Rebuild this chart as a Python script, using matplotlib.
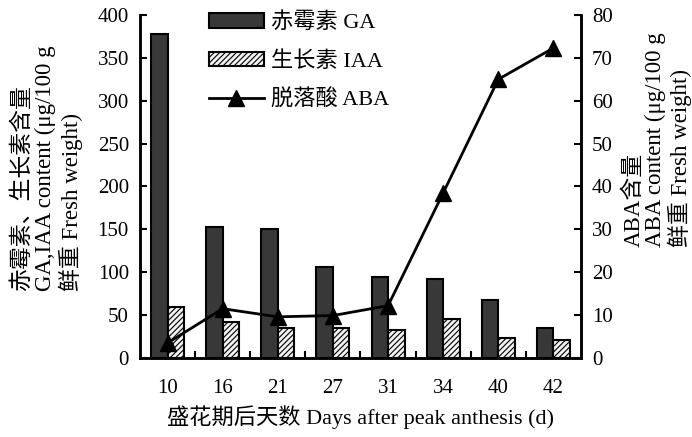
import matplotlib
matplotlib.use("Agg")
import matplotlib.pyplot as plt
import numpy as np

plt.rcParams['font.family'] = ['Liberation Serif', 'Noto Sans CJK SC']
plt.rcParams['hatch.color'] = '#555555'
plt.rcParams['hatch.linewidth'] = 0.8

days = ['10', '16', '21', '27', '31', '34', '40', '42']
ga = [378, 153, 151, 106, 94, 92, 68, 35]
iaa = [60, 42, 35, 35, 33, 45, 23, 21]
aba = [3.5, 11.5, 9.6, 9.9, 12.2, 38.5, 65, 72.3]

x = np.arange(len(days))
w = 0.3

fig = plt.figure(figsize=(6.92, 4.37), dpi=100)
ax = fig.add_axes([0.2023, 0.1808, 0.6373, 0.7849])
ax2 = ax.twinx()

b1 = ax.bar(x - w/2, ga, w, color='#383838', edgecolor='black', linewidth=1.5)
b2 = ax.bar(x + w/2, iaa, w, color='#f2f2f2', edgecolor='black', linewidth=1.5, hatch='//////')
l1, = ax2.plot(x, aba, color='black', linewidth=2, marker='^', markersize=11)

ax.set_xlim(-0.5, 7.5)
ax.set_ylim(0, 400)
ax2.set_ylim(0, 80)
ax.set_yticks(np.arange(0, 401, 50))
ax2.set_yticks(np.arange(0, 81, 10))
ax.set_xticks(x)
ax.set_xticklabels(days)
ax.set_xticks(np.arange(0.5, 7, 1), minor=True)
ax.tick_params(axis='x', which='major', length=0, pad=15, labelsize=15)
ax.tick_params(axis='x', which='minor', direction='in', length=5, width=1.5)
ax.tick_params(axis='y', direction='in', length=5, width=1.5, labelsize=15, pad=8)
ax2.tick_params(axis='y', direction='in', length=5, width=1.5, labelsize=15, pad=8)

for a in (ax, ax2):
    a.spines['top'].set_visible(False)
    for s in ('left', 'right', 'bottom'):
        a.spines[s].set_linewidth(1.8)

ax.set_xlabel('盛花期后天数 Days after peak anthesis (d)', fontsize=16, labelpad=5)
fig.text(0.068, 0.615, '赤霉素、生长素含量\nGA,IAA content (μg/100 g\n鲜重 Fresh weight)',
         rotation=90, ha='center', va='center', multialignment='left', fontsize=16.5, linespacing=1.12)
fig.text(0.950, 0.68, 'ABA含量\nABA content (μg/100 g\n鲜重 Fresh weight)',
         rotation=90, ha='center', va='center', multialignment='left', fontsize=16.5, linespacing=1.05)

ax.legend([b1, b2, l1], ['赤霉素 GA', '生长素 IAA', '脱落酸 ABA'], loc='upper left',
          bbox_to_anchor=(0.11, 1.065), frameon=False, fontsize=16, handlelength=2.5,
          handleheight=0.6, labelspacing=0.8, handletextpad=0.3)

fig.savefig('out.png', dpi=100)
